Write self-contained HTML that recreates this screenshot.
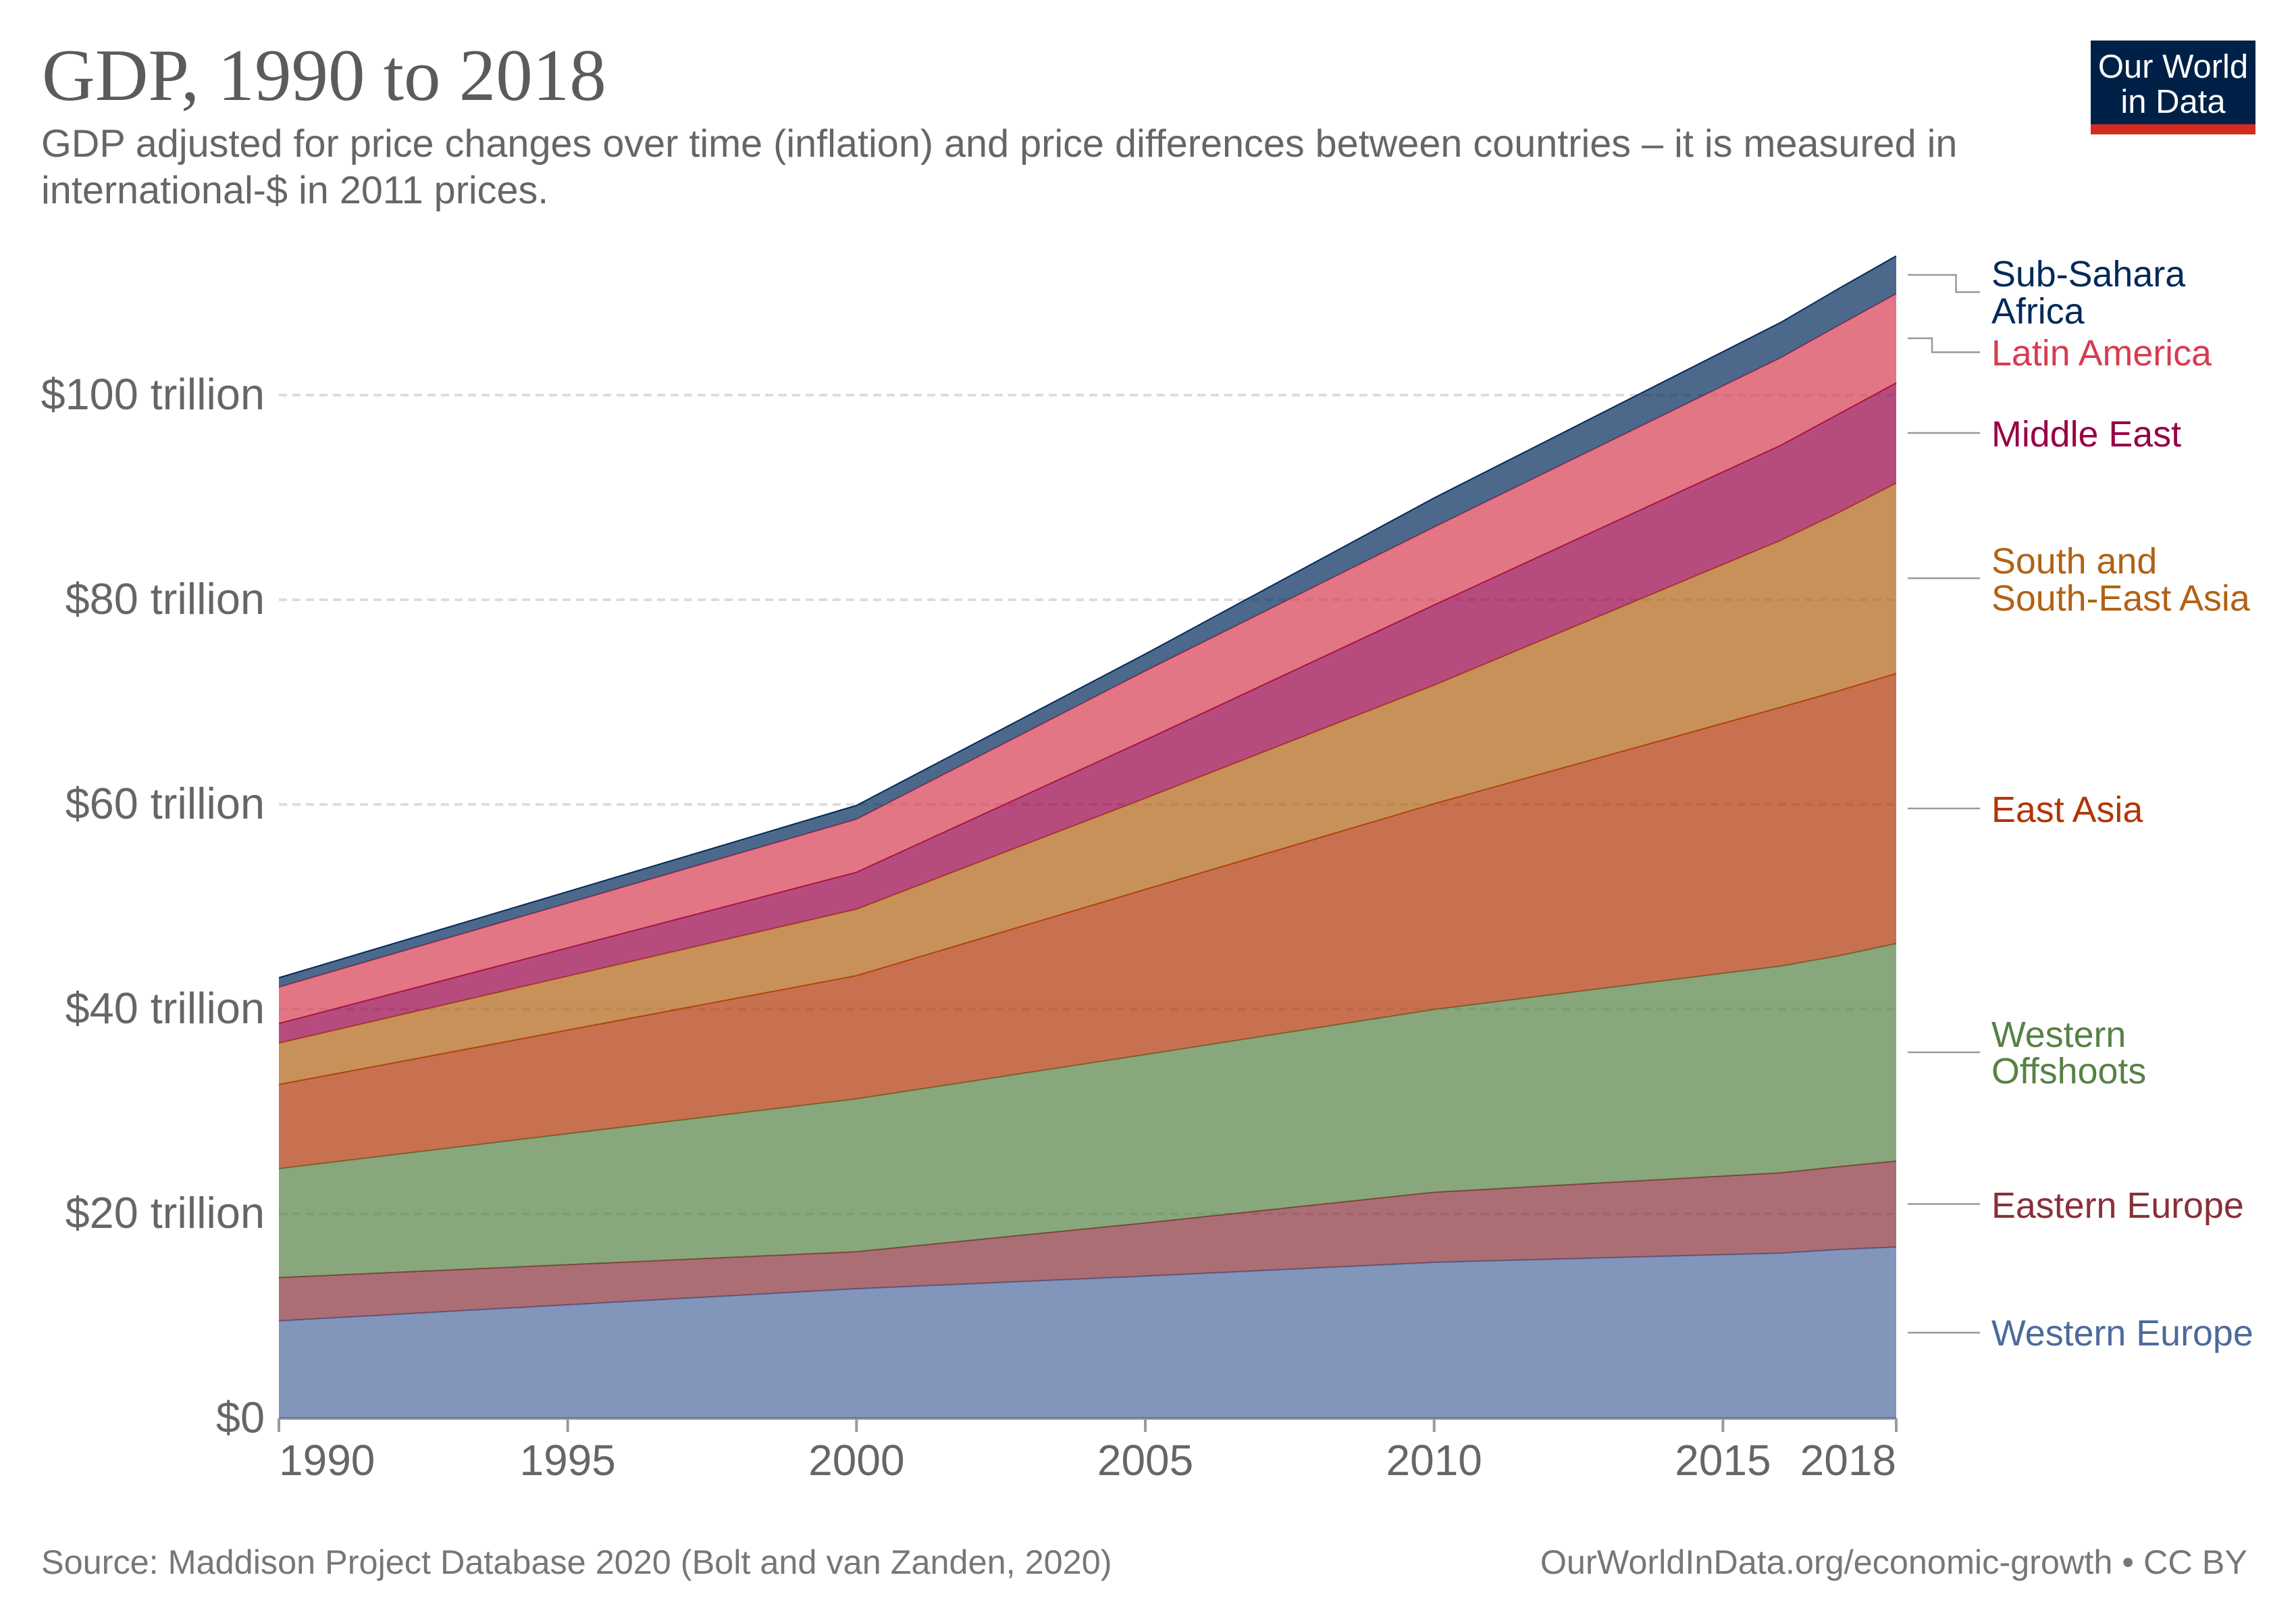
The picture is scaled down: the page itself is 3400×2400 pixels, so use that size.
<!DOCTYPE html>
<html lang="en">
<head>
<meta charset="utf-8">
<title>GDP, 1990 to 2018</title>
<style>
html,body{margin:0;padding:0;background:#fff;width:3400px;height:2400px;overflow:hidden}
svg{display:block;font-family:"Liberation Sans",Arial,sans-serif}
</style>
</head>
<body>
<svg id="chart" xmlns="http://www.w3.org/2000/svg" width="3400" height="2400" viewBox="0 0 3400 2400">
  <rect x="0" y="0" width="3400" height="2400" fill="#ffffff"/>
  <text x="62" y="148" font-family="'Liberation Serif',serif" font-size="109" fill="#5b5b5b">GDP, 1990 to 2018</text>
  <text x="61" y="232" font-size="57.6" fill="#666666">GDP adjusted for price changes over time (inflation) and price differences between countries – it is measured in</text>
  <text x="61" y="301" font-size="57.6" fill="#666666">international-$ in 2011 prices.</text>

  <g>
    <rect x="3096" y="60" width="244" height="124" fill="#002147"/>
    <rect x="3096" y="184" width="244" height="15" fill="#d42b21"/>
    <text x="3218" y="115" font-size="49" fill="#ffffff" text-anchor="middle">Our World</text>
    <text x="3218" y="167" font-size="49" fill="#ffffff" text-anchor="middle">in Data</text>
  </g>

  <g id="grid"></g>
  <g id="axis"></g>
  <g id="areas"></g>
  <g id="yticks"></g>
  <g id="xticks"></g>
  <g id="leaders"></g>

  <g font-size="53.8">
    <text fill="#00295B"><tspan x="2949" y="424">Sub-Sahara</tspan><tspan x="2949" y="479">Africa</tspan></text>
    <text fill="#D73C50" x="2949" y="541">Latin America</text>
    <text fill="#970046" x="2949" y="661">Middle East</text>
    <text fill="#B16214"><tspan x="2949" y="849">South and</tspan><tspan x="2949" y="904">South-East Asia</tspan></text>
    <text fill="#B13507" x="2949" y="1217">East Asia</text>
    <text fill="#578145"><tspan x="2949" y="1550">Western</tspan><tspan x="2949" y="1604">Offshoots</tspan></text>
    <text fill="#883039" x="2949" y="1803">Eastern Europe</text>
    <text fill="#4C6A9C" x="2949" y="1992">Western Europe</text>
  </g>

  <text x="61" y="2330" font-size="50.4" fill="#777777">Source: Maddison Project Database 2020 (Bolt and van Zanden, 2020)</text>
  <text x="3328" y="2330" font-size="50.4" fill="#777777" text-anchor="end">OurWorldInData.org/economic-growth • CC BY</text>
</svg>
<script>
const years = [1990, 2000, 2005, 2010, 2016, 2017, 2018];
const westernEurope = [9.53, 12.67, 13.9, 15.25, 16.15, 16.5, 16.75];
const easternEurope = [4.23, 3.62, 5.2, 6.85, 7.85, 8.1, 8.4];
const westernOffshoots = [10.65, 14.94, 16.45, 17.86, 20.2, 20.6, 21.25];
const eastAsia = [8.22, 12.04, 16.15, 20.11, 25.3, 25.9, 26.4];
const southAsia = [4.04, 6.49, 8.9, 11.58, 16.3, 17.4, 18.6];
const middleEast = [1.93, 3.62, 5.7, 7.85, 9.3, 9.65, 9.8];
const latinAmerica = [3.54, 5.17, 6.74, 7.6, 8.55, 8.65, 8.7];
const subSaharaAfrica = [0.92, 1.35, 1.66, 2.85, 3.45, 3.6, 3.7];
const yTickValues = [0, 20, 40, 60, 80, 100];
const yTickLabels = ['$0', '$20 trillion', '$40 trillion', '$60 trillion', '$80 trillion', '$100 trillion'];
const xTickValues = [1990, 1995, 2000, 2005, 2010, 2015, 2018];
const xTickLabels = ['1990', '1995', '2000', '2005', '2010', '2015', '2018'];
const seriesNames = ['western-europe', 'eastern-europe', 'western-offshoots', 'east-asia', 'south-asia', 'middle-east', 'latin-america', 'sub-sahara-africa'];
const seriesColors = ['#4C6A9C', '#883039', '#578145', '#B13507', '#B16214', '#970046', '#D73C50', '#00295B'];

const NS = 'http://www.w3.org/2000/svg';
const PLOT = {left: 413, right: 2808, bottom: 2100, perTrillion: 15.15};
function xScale(year) { return PLOT.left + (year - 1990) / (2018 - 1990) * (PLOT.right - PLOT.left); }
function yScale(value) { return PLOT.bottom - value * PLOT.perTrillion; }
function make(tag, parentId) {
  const el = document.createElementNS(NS, tag);
  document.getElementById(parentId).appendChild(el);
  return el;
}

yTickValues.forEach(function (v, i) {
  if (v !== 0) {
    const line = make('line', 'grid');
    
    
    line.setAttribute('x1', PLOT.left);
    line.setAttribute('x2', PLOT.right);
    line.setAttribute('y1', yScale(v));
    line.setAttribute('y2', yScale(v));
    line.setAttribute('stroke', '#dddddd');
    line.setAttribute('stroke-width', '4');
    line.setAttribute('stroke-dasharray', '12 8');
  }
  const label = make('text', 'yticks');
  
  
  label.setAttribute('x', 392);
  label.setAttribute('y', yScale(v) + 21);
  label.setAttribute('font-size', '64.8');
  label.setAttribute('fill', '#666666');
  label.setAttribute('text-anchor', 'end');
  label.textContent = yTickLabels[i];
});

const axisLine = make('line', 'axis');


axisLine.setAttribute('x1', PLOT.left);
axisLine.setAttribute('x2', PLOT.right);
axisLine.setAttribute('y1', PLOT.bottom);
axisLine.setAttribute('y2', PLOT.bottom);
axisLine.setAttribute('stroke', '#999999');
axisLine.setAttribute('stroke-width', '4');

xTickValues.forEach(function (year, i) {
  const tick = make('line', 'axis');
  
  
  tick.setAttribute('x1', xScale(year));
  tick.setAttribute('x2', xScale(year));
  tick.setAttribute('y1', PLOT.bottom);
  tick.setAttribute('y2', PLOT.bottom + 20);
  tick.setAttribute('stroke', '#999999');
  tick.setAttribute('stroke-width', '4');
  const label = make('text', 'xticks');
  
  
  label.setAttribute('x', xScale(year));
  label.setAttribute('y', 2184);
  label.setAttribute('font-size', '64');
  label.setAttribute('fill', '#666666');
  const anchor = i === 0 ? 'start' : (i === xTickValues.length - 1 ? 'end' : 'middle');
  label.setAttribute('text-anchor', anchor);
  label.textContent = xTickLabels[i];
});

const seriesValues = [westernEurope, easternEurope, westernOffshoots, eastAsia, southAsia, middleEast, latinAmerica, subSaharaAfrica];
const running = years.map(function () { return 0; });
const lastBounds = [];
seriesValues.forEach(function (vals, s) {
  const lower = running.slice();
  vals.forEach(function (v, i) { running[i] += v; });
  const upper = running.slice();
  const top = years.map(function (y, i) { return xScale(y) + ',' + yScale(upper[i]); });
  const bottom = years.map(function (y, i) { return xScale(y) + ',' + yScale(lower[i]); }).reverse();
  const area = make('path', 'areas');
  
  
  area.setAttribute('d', 'M' + top.join('L') + 'L' + bottom.join('L') + 'Z');
  area.setAttribute('fill', seriesColors[s]);
  area.setAttribute('fill-opacity', '0.7');
  const edge = make('path', 'areas');
  
  
  edge.setAttribute('d', 'M' + top.join('L'));
  edge.setAttribute('fill', 'none');
  edge.setAttribute('stroke', seriesColors[s]);
  edge.setAttribute('stroke-width', '2');
  lastBounds.push((lower[lower.length - 1] + upper[upper.length - 1]) / 2);
});

function addLeader(index, endY, bendX) {
  const startY = yScale(lastBounds[index]);
  const targetY = endY === null ? startY : endY;
  const line = make('path', 'leaders');
  
  
  line.setAttribute('d', 'M2825,' + startY + 'H' + bendX + 'V' + targetY + 'H2932');
  line.setAttribute('fill', 'none');
  line.setAttribute('stroke', '#999999');
  line.setAttribute('stroke-width', '2.5');
}
addLeader(0, null, 2878);
addLeader(1, null, 2878);
addLeader(2, null, 2878);
addLeader(3, null, 2878);
addLeader(4, null, 2878);
addLeader(5, null, 2878);
addLeader(6, 521.5, 2861);
addLeader(7, 432.5, 2896.5);
</script>
</body>
</html>
